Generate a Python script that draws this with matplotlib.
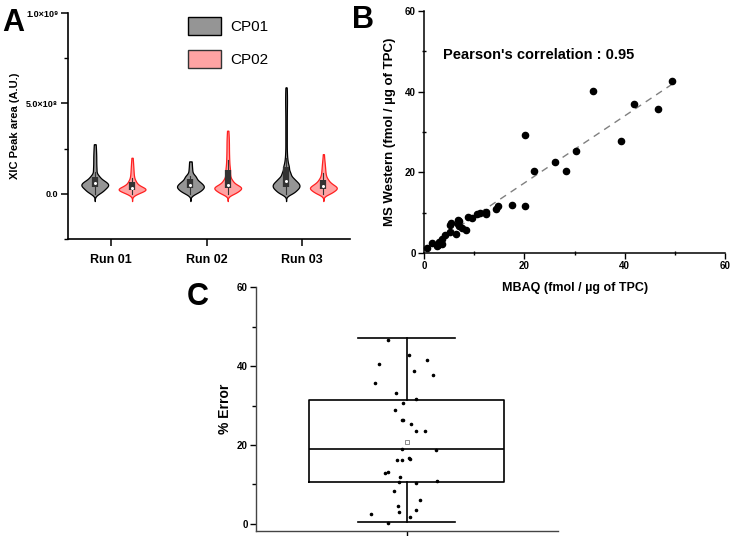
import numpy as np
import matplotlib
matplotlib.use('Agg')
import matplotlib.pyplot as plt
from matplotlib.patches import Patch
from matplotlib.ticker import MultipleLocator

# --- A: XIC peak area samples (x1e8 A.U.) ---
runs = ['Run 01', 'Run 02', 'Run 03']
cp01 = [
    [0.0, 0.1, 0.15, 0.2, 0.25, 0.3, 0.35, 0.4, 0.4, 0.45, 0.5, 0.5, 0.55, 0.6, 0.6,
     0.65, 0.7, 0.75, 0.8, 0.9, 1.0, 1.2, 1.45, 1.75, 2.05, 2.4, 2.75],
    [0.0, 0.1, 0.15, 0.2, 0.25, 0.3, 0.35, 0.4, 0.4, 0.45, 0.5, 0.55, 0.6, 0.65, 0.7,
     0.8, 0.9, 1.0, 1.2, 1.5, 1.8],
    [0.0, 0.05, 0.1, 0.15, 0.2, 0.25, 0.3, 0.3, 0.35, 0.4, 0.4, 0.45, 0.5, 0.5, 0.55,
     0.6, 0.6, 0.65, 0.7, 0.75, 0.8, 0.85, 0.9, 1.0, 1.1, 1.2, 1.35, 1.5, 1.7, 2.0,
     2.5, 3.1, 3.7, 4.3, 4.9, 5.4, 5.9],
]
cp02 = [
    [0.0, 0.05, 0.1, 0.15, 0.2, 0.2, 0.25, 0.25, 0.25, 0.3, 0.3, 0.35, 0.4, 0.45, 0.5,
     0.6, 0.7, 0.85, 1.05, 1.3, 1.6, 2.0],
    [0.0, 0.05, 0.1, 0.15, 0.2, 0.25, 0.3, 0.3, 0.35, 0.35, 0.4, 0.45, 0.5, 0.55, 0.65,
     0.75, 0.9, 1.1, 1.3, 1.55, 1.85, 2.2, 2.6, 3.0, 3.5],
    [0.0, 0.05, 0.1, 0.15, 0.2, 0.25, 0.3, 0.3, 0.35, 0.35, 0.4, 0.45, 0.5, 0.55, 0.6,
     0.7, 0.8, 0.95, 1.15, 1.4, 1.7, 2.2],
]

# --- B: MBAQ vs MS Western (fmol / ug of TPC) ---
mbaq = [0.7, 1.66, 2.66, 2.7, 3.0, 3.65, 3.6, 4.25, 5.2, 5.2, 5.4, 6.3, 6.7, 7.0, 6.8,
        7.0, 7.6, 8.3, 8.8, 9.6, 10.6, 11.2, 12.3, 12.3, 14.3, 14.75, 17.6, 20.1, 20.1,
        22.0, 26.2, 28.3, 30.2, 33.6, 39.2, 41.9, 46.6, 49.4]
mswestern = [1.24, 2.6, 1.7, 2.1, 2.8, 3.4, 2.2, 4.4, 5.1, 7.0, 7.5, 4.7, 8.3, 7.9, 7.1,
             6.6, 6.1, 5.8, 8.9, 8.7, 9.6, 10.0, 9.7, 10.1, 10.8, 11.7, 12.0, 11.7, 29.3,
             20.3, 22.5, 20.3, 25.3, 40.1, 27.8, 37.0, 35.7, 42.7]
pearson_r = 0.95

# --- C: % error ---
err_vals = [46.7, 42.8, 41.5, 40.6, 38.8, 37.8, 35.8, 33.1, 31.7, 30.7, 28.8, 26.3, 26.3,
            25.4, 23.5, 23.5, 19.1, 18.7, 16.7, 16.5, 16.1, 16.1, 12.9, 13.1, 12.0, 10.5,
            10.3, 10.8, 8.3, 6.1, 4.5, 3.4, 3.1, 2.4, 1.7, 0.3]
err_jitter = [-57, 6, 59, -82, 20, 78, -94, -31, 28, -10, -36, -14, -10, 13, 27, 55, -14,
              88, 6, 10, -29, -14, -66, -57, -20, -22, 28, 90, -39, 40, -27, 28, -22,
              -108, 10, -56]
err_q1, err_med, err_q3 = 10.6, 19.0, 31.4
err_lo, err_hi, err_mean = 0.4, 47.0, 20.8

# フォント
plt.rcParams['font.family'] = ['Liberation Sans', 'DejaVu Sans']
plt.rcParams['font.weight'] = 'bold'
plt.rcParams['xtick.direction'] = 'out'
plt.rcParams['ytick.direction'] = 'out'

fig = plt.figure(figsize=(7.31, 5.36), dpi=100)

# ================= A =================
ax1 = fig.add_axes([0.093, 0.554, 0.386, 0.4216])


def kde(vals, grid, bw):
    # gaussian KDE, kernel widened where samples are sparse (nearest neighbour)
    v = np.sort(np.asarray(vals, dtype=float))
    gaps = np.diff(v)
    nn = np.minimum(np.r_[gaps, np.inf], np.r_[np.inf, gaps])
    h = np.maximum(bw, 1.0 * nn)
    k = np.exp(-0.5 * ((grid[None, :] - v[:, None]) / h[:, None]) ** 2) / h[:, None]
    return k.sum(axis=0)


bw = 0.12
half_w = 0.14
offsets = [-0.17, 0.22]
styles = [dict(fc='#959595', ec='black'), dict(fc='#ffa3a3', ec='#ff2020')]
for i in range(len(runs)):
    for j, data in enumerate([cp01[i], cp02[i]]):
        d = np.array(data)
        grid = np.linspace(d.min() - 0.4, d.max(), 400)
        dens = kde(d, grid, bw)
        dens = dens / dens.max() * half_w
        dens[-1] = 0
        xc = i + 1 + offsets[j]
        ax1.fill_betweenx(grid * 1e8, xc - dens, xc + dens, lw=0.9, **styles[j])
        q1, med, q3 = np.percentile(d, [25, 50, 75])
        top = d[d <= q3 + 0.75 * (q3 - q1)].max()
        ax1.plot([xc, xc], [d.min() * 1e8, top * 1e8], color='#333333', lw=0.8)
        ax1.plot([xc, xc], [q1 * 1e8, q3 * 1e8], color='#333333', lw=4.5,
                 solid_capstyle='butt')
        ax1.plot(xc, med * 1e8, 'o', ms=2.2, mfc='white', mec='white', mew=0)

ax1.set_xlim(0.55, 3.5)
ax1.set_ylim(-2.5e8, 1.0e9)
ax1.set_xticks([1, 2, 3])
ax1.set_xticklabels(runs, fontsize=9, fontweight='bold')
ax1.set_yticks([0, 5e8, 1e9])
ax1.set_yticklabels(['0.0', '5.0×10⁸', '1.0×10⁹'], fontsize=6.5, fontweight='bold')
ax1.yaxis.set_minor_locator(MultipleLocator(2.5e8))
ax1.set_ylabel('XIC Peak area (A.U.)', fontsize=8, fontweight='bold', labelpad=4)
for s in ['top', 'right']:
    ax1.spines[s].set_visible(False)
for s in ['left', 'bottom']:
    ax1.spines[s].set_linewidth(1.2)
ax1.tick_params(which='major', length=5, width=1.1, pad=2)
ax1.tick_params(axis='x', pad=6)
ax1.tick_params(which='minor', length=3, width=1.0)

handles = [Patch(fc='#959595', ec='black', lw=1.0, label='CP01'),
           Patch(fc='#ffa3a3', ec='#333333', lw=1.0, label='CP02')]
ax1.legend(handles=handles, loc='upper left', bbox_to_anchor=(0.375, 1.045), frameon=False,
           prop={'size': 11, 'weight': 'normal'}, handlelength=2.2, handleheight=1.5,
           labelspacing=0.95, handletextpad=0.6)

fig.text(0.003, 0.985, 'A', fontsize=22, fontweight='bold', va='top')

# ================= B =================
ax2 = fig.add_axes([0.580, 0.528, 0.412, 0.4515])
ax2.scatter(mbaq, mswestern, s=20, color='black', zorder=3, clip_on=False)
coef = np.polyfit(mbaq, mswestern, 1)
xfit = np.array([min(mbaq), max(mbaq)])
ax2.plot(xfit, np.polyval(coef, xfit), '--', color='#808080', lw=1.0, dashes=(5, 4))
ax2.text(0.063, 0.82, "Pearson's correlation : %.2f" % pearson_r, transform=ax2.transAxes,
         fontsize=10.5, fontweight='bold', va='center')
ax2.set_xlim(0, 60)
ax2.set_ylim(0, 60)
ax2.set_xticks([0, 20, 40, 60])
ax2.set_yticks([0, 20, 40, 60])
ax2.xaxis.set_minor_locator(MultipleLocator(10))
ax2.yaxis.set_minor_locator(MultipleLocator(10))
ax2.tick_params(labelsize=7, pad=2)
ax2.tick_params(which='major', length=4, width=1.0)
ax2.tick_params(which='minor', length=3, width=1.0, direction='inout')
for lab in ax2.get_xticklabels() + ax2.get_yticklabels():
    lab.set_fontweight('bold')
ax2.set_xlabel('MBAQ (fmol / µg of TPC)', fontsize=9, fontweight='bold', labelpad=8)
ax2.set_ylabel('MS Western (fmol / µg of TPC)', fontsize=9.5, fontweight='bold', labelpad=6)
for s in ['top', 'right']:
    ax2.spines[s].set_visible(False)
for s in ['left', 'bottom']:
    ax2.spines[s].set_linewidth(1.1)

fig.text(0.482, 0.99, 'B', fontsize=22, fontweight='bold', va='top')

# ================= C =================
ax3 = fig.add_axes([0.350, 0.0093, 0.413, 0.455])
ax3.patch.set_visible(False)
stats = [dict(med=err_med, q1=err_q1, q3=err_q3, whislo=err_lo, whishi=err_hi,
              mean=err_mean, fliers=[])]
ax3.bxp(stats, positions=[0], widths=1.29, showmeans=True, showfliers=False,
        boxprops=dict(color='black', lw=1.2), medianprops=dict(color='black', lw=1.2),
        whiskerprops=dict(color='black', lw=1.2), capprops=dict(color='black', lw=1.2),
        meanprops=dict(marker='s', ms=3, mfc='white', mec='#777777', mew=0.6))
ax3.scatter(np.array(err_jitter) / 450.0, err_vals, s=2.5, color='black', zorder=3)
ax3.set_xlim(-1, 1)
ax3.set_ylim(-1.8, 60)
ax3.set_xticks([0])
ax3.set_xticklabels([''])
ax3.set_yticks([0, 20, 40, 60])
ax3.yaxis.set_minor_locator(MultipleLocator(10))
ax3.tick_params(labelsize=7, pad=2)
ax3.tick_params(which='major', length=4, width=1.0)
ax3.tick_params(which='minor', length=3, width=1.0)
for lab in ax3.get_yticklabels():
    lab.set_fontweight('bold')
ax3.set_ylabel('% Error', fontsize=10, fontweight='bold', labelpad=3)
for s in ['top', 'right']:
    ax3.spines[s].set_visible(False)
for s in ['left', 'bottom']:
    ax3.spines[s].set_linewidth(1.0)
    ax3.spines[s].set_color('#444444')

fig.text(0.255, 0.473, 'C', fontsize=22, fontweight='bold', va='top')

fig.savefig('out.png', dpi=100)
plt.close()
